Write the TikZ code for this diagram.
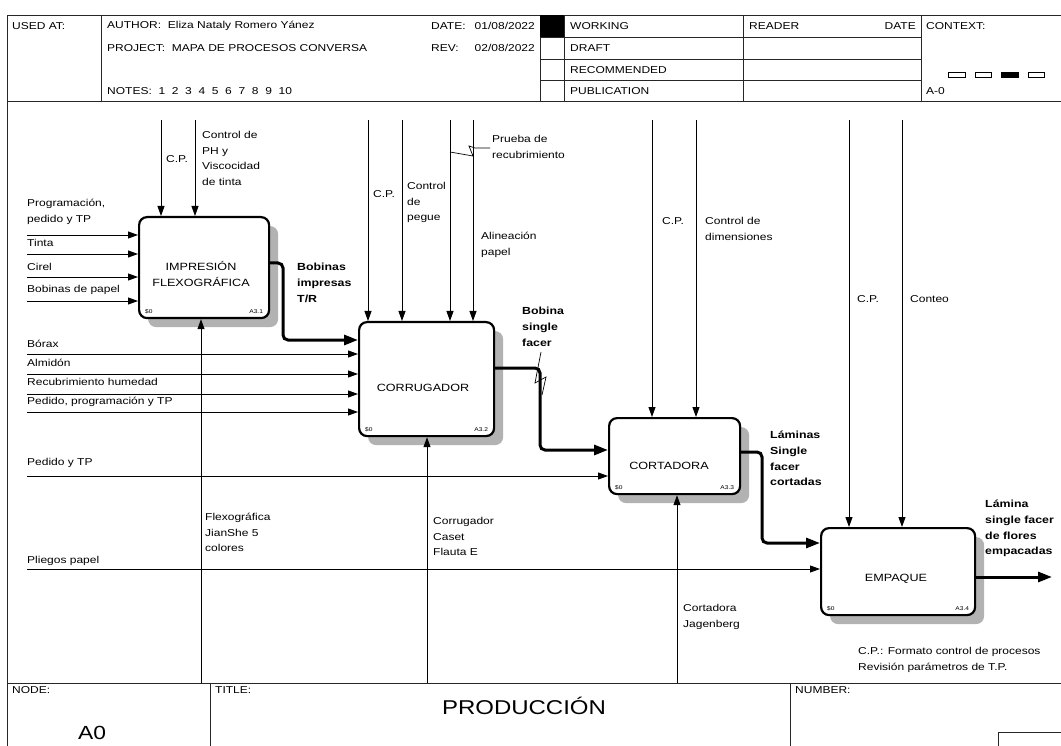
\documentclass[tikz,border=0pt]{standalone}
\usepackage{fontspec}
\setmainfont{Liberation Sans}[FakeStretch=1.2]
\usetikzlibrary{arrows.meta,shadows}
\begin{document}
\begin{tikzpicture}[x=1pt,y=-1pt,
 frame/.style={line width=0.8pt, draw=black!85},
 lbl/.style={font=\fontsize{10}{15.7}\selectfont, inner sep=0pt, anchor=north west, align=left},
 blbl/.style={lbl, font=\fontsize{10.3}{15.7}\selectfont\bfseries},
 hdr/.style={font=\fontsize{10}{12}\selectfont, inner sep=0pt, anchor=west},
 procbox/.style={draw, line width=2.2pt, rounded corners=8pt, fill=white, anchor=north west,
   drop shadow={shadow xshift=9pt, shadow yshift=-9pt, fill=black!30, opacity=1}},
 boxtxt/.style={font=\fontsize{10.5}{16}\selectfont, align=center, inner sep=0pt},
 tinytxt/.style={font=\fontsize{5.5}{6}\selectfont, inner sep=0pt},
 arr/.style={line width=0.9pt, -{Triangle[length=10pt,width=7pt]}},
 tarr/.style={line width=3pt, rounded corners=5pt, -{Triangle[length=14pt,width=10pt]}},
 squig/.style={line width=0.7pt},
]
\useasboundingbox (0,0) rectangle (1061,746);
\fill[white] (0,0) rectangle (1061,746);

% ---------------- header ----------------
\draw[frame] (7,746) -- (7,15) -- (1061,15);
\draw[frame] (7,101) -- (1061,101);
\foreach \xx in {101,540,564,743,921} \draw[frame] (\xx,15) -- (\xx,101);
\foreach \yy in {37,59,80} \draw[frame] (540,\yy) -- (921,\yy);
\fill[black] (540,15) rectangle (564,37);
\node[hdr] (usedat) at (12,26) {USED AT:};
\node[hdr] (author) at (107,26) {AUTHOR:\ \ Eliza Nataly Romero Yánez};
\node[hdr] (project) at (107,48) {PROJECT:\ \ MAPA DE PROCESOS CONVERSA};
\node[hdr] (notes) at (107,91) {NOTES:\ \ 1\ \ 2\ \ 3\ \ 4\ \ 5\ \ 6\ \ 7\ \ 8\ \ 9\ \ 10};
\node[hdr] (datek) at (431,26) {DATE:};
\node[hdr, anchor=east] (datev) at (535,26) {01/08/2022};
\node[hdr] (revk) at (431,48) {REV:};
\node[hdr, anchor=east] (revv) at (535,48) {02/08/2022};
\node[hdr] (working) at (570,26) {WORKING};
\node[hdr] (draft) at (570,48) {DRAFT};
\node[hdr] (recom) at (570,70) {RECOMMENDED};
\node[hdr] (public) at (570,91) {PUBLICATION};
\node[hdr] (reader) at (749,26) {READER};
\node[hdr, anchor=east] (rdate) at (916,26) {DATE};
\node[hdr] (context) at (926,26) {CONTEXT:};
\node[hdr] (aminus) at (926,91) {A-0};
\draw[line width=0.8pt] (948,72) rectangle (965,77);
\draw[line width=0.8pt] (975,72) rectangle (991,77);
\filldraw[line width=0.8pt] (1001,72) rectangle (1018,77);
\draw[line width=0.8pt] (1028,72) rectangle (1044,77);

% ---------------- footer ----------------
\draw[frame] (7,683) -- (1061,683);
\draw[frame] (210,683) -- (210,746);
\draw[frame] (790,683) -- (790,746);
\draw[frame] (998,746) -- (998,732) -- (1061,732);
\node[hdr] (nodek) at (12,690) {NODE:};
\node[hdr] (titlek) at (215,690) {TITLE:};
\node[hdr] (numberk) at (795,690) {NUMBER:};
\node[font=\fontsize{20}{22}\selectfont, inner sep=0pt] (title) at (524,706) {PRODUCCIÓN};
\node[font=\fontsize{19}{22}\selectfont, inner sep=0pt] (a0) at (92,733) {A0};

% ---------------- boxes ----------------
\node[procbox, minimum width=130pt, minimum height=101pt] (b1) at (138,216) {};
\node[procbox, minimum width=135pt, minimum height=114pt] (b2) at (358,321) {};
\node[procbox, minimum width=131pt, minimum height=76pt] (b3) at (608,417) {};
\node[procbox, minimum width=154pt, minimum height=87pt] (b4) at (820,527) {};
\node[boxtxt] (t1) at (201,274) {IMPRESIÓN\\FLEXOGRÁFICA};
\node[boxtxt] (t2) at (423,388) {CORRUGADOR};
\node[boxtxt] (t3) at (669,466) {CORTADORA};
\node[boxtxt] (t4) at (896,579) {EMPAQUE};
\node[tinytxt, anchor=south west] (s1) at ([shift={(7pt,5pt)}]b1.south west) {\$0};
\node[tinytxt, anchor=south east] (a1) at ([shift={(-7pt,5pt)}]b1.south east) {A3.1};
\node[tinytxt, anchor=south west] (s2) at ([shift={(7pt,5pt)}]b2.south west) {\$0};
\node[tinytxt, anchor=south east] (a2) at ([shift={(-7pt,5pt)}]b2.south east) {A3.2};
\node[tinytxt, anchor=south west] (s3) at ([shift={(7pt,5pt)}]b3.south west) {\$0};
\node[tinytxt, anchor=south east] (a3) at ([shift={(-7pt,5pt)}]b3.south east) {A3.3};
\node[tinytxt, anchor=south west] (s4) at ([shift={(7pt,5pt)}]b4.south west) {\$0};
\node[tinytxt, anchor=south east] (a4) at ([shift={(-7pt,5pt)}]b4.south east) {A3.4};

% ---------------- inputs ----------------
\foreach \yy/\bb in {235/b1,254/b1,277/b1,301/b1,354/b2,374/b2,394/b2,412/b2,476/b3,569/b4}{
  \coordinate (in) at (27,\yy);
  \draw[arr] (in) -- (in -| \bb.west);
}
% ---------------- controls ----------------
\foreach \xx/\bb in {161/b1,195/b1,368/b2,402/b2,450/b2,473/b2,652/b3,696/b3,849/b4,902/b4}{
  \coordinate (ct) at (\xx,120);
  \draw[arr] (ct) -- (ct |- \bb.north);
}
% ---------------- mechanisms ----------------
\foreach \xx/\bb in {201/b1,427/b2,677/b3}{
  \coordinate (mc) at (\xx,683);
  \draw[arr] (mc) -- (mc |- \bb.south);
}
% ---------------- outputs ----------------
\coordinate (o1) at (268,263);
\coordinate (e1) at (300,340);
\draw[tarr] (o1 -| b1.east) -- (283,263) -- (283,340) -- (e1 -| b2.west);
\coordinate (o2) at (493,368);
\coordinate (e2) at (560,450);
\draw[tarr] (o2 -| b2.east) -- (540,368) -- (540,450) -- (e2 -| b3.west);
\coordinate (o3) at (739,452);
\coordinate (e3) at (780,543);
\draw[tarr] (o3 -| b3.east) -- (762,452) -- (762,543) -- (e3 -| b4.west);
\coordinate (o4) at (974,577);
\coordinate (e4) at (1052,577);
\draw[tarr] (o4 -| b4.east) -- (e4);

% squiggles
\draw[squig] (450,152) -- (473,156) -- (469,146) -- (475,148) -- (490,148);
\draw[squig] (541,352) -- (535,383) -- (546,377) -- (542,395);

% ---------------- labels ----------------
\node[lbl] (l1) at (27,199) {Programación,\\pedido y TP};
\node[lbl] (l2) at (27,239) {Tinta};
\node[lbl] (l3) at (27,263) {Cirel};
\node[lbl] (l4) at (27,285) {Bobinas de papel};
\node[lbl] (l5) at (166,155) {C.P.};
\node[lbl] (l6) at (202,131) {Control de\\PH y\\Viscocidad\\de tinta};
\node[lbl] (l7) at (205,513) {Flexográfica\\JianShe 5\\colores};
\node[blbl] (l8) at (297,263) {Bobinas\\impresas\\T/R};
\node[lbl] (l9) at (27,340) {Bórax};
\node[lbl] (l10) at (27,359) {Almidón};
\node[lbl] (l11) at (27,378) {Recubrimiento humedad};
\node[lbl] (l12) at (27,397) {Pedido, programación y TP};
\node[lbl] (l13) at (373,190) {C.P.};
\node[lbl] (l14) at (407,182) {Control\\de\\pegue};
\node[lbl] (l15) at (481,232) {Alineación\\papel};
\node[lbl] (l16) at (492,135) {Prueba de\\recubrimiento};
\node[lbl] (l17) at (433,517) {Corrugador\\Caset\\Flauta E};
\node[blbl] (l18) at (522,307) {Bobina\\single\\facer};
\node[lbl] (l19) at (27,458) {Pedido y TP};
\node[lbl] (l20) at (662,217) {C.P.};
\node[lbl] (l21) at (705,217) {Control de\\dimensiones};
\node[lbl] (l22) at (683,604) {Cortadora\\Jagenberg};
\node[blbl] (l23) at (770,431) {Láminas\\Single\\facer\\cortadas};
\node[lbl] (l24) at (27,556) {Pliegos papel};
\node[lbl] (l25) at (857,295) {C.P.};
\node[lbl] (l26) at (910,295) {Conteo};
\node[blbl] (l27) at (985,500) {Lámina\\single facer\\de flores\\empacadas};
\node[lbl] (l28) at (858,647) {C.P.: Formato control de procesos\\Revisión parámetros de T.P.};
\end{tikzpicture}
\end{document}
